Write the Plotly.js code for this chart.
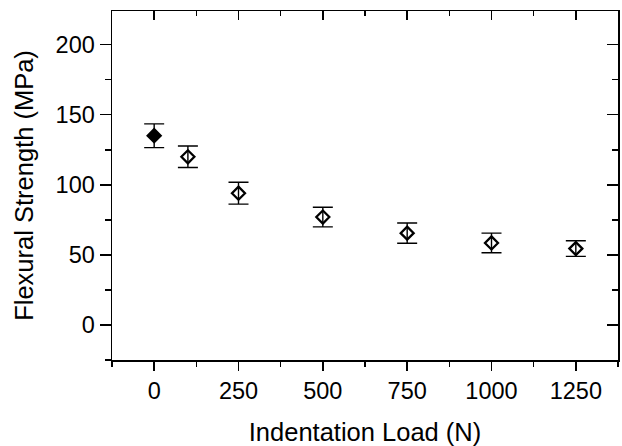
<!DOCTYPE html>
<html>
<head>
<meta charset="utf-8">
<script src="https://cdn.plot.ly/plotly-3.0.1.min.js"></script>
<style>html,body{margin:0;padding:0;background:#fff;}#chart{width:622px;height:446px;}</style>
</head>
<body>
<div id="chart"></div>
<script>
const loads = [0, 100, 250, 500, 750, 1000, 1250];
const strength = [135, 120, 94, 77, 65.5, 58.5, 54.5];
const errors = [8.5, 7.7, 7.8, 7, 7.2, 7, 5.6];
const symbols = ['diamond', 'diamond-open', 'diamond-open', 'diamond-open', 'diamond-open', 'diamond-open', 'diamond-open'];
const xTicks = [0, 250, 500, 750, 1000, 1250];
const yTicks = [0, 50, 100, 150, 200];

const font = {family: 'Liberation Sans, Arial, Helvetica, sans-serif', color: '#000'};
const xRange = [-125, 1375];
const yRange = [-25, 224];

const data = [
  {
    x: loads, y: strength, type: 'scatter', mode: 'markers',
    marker: {symbol: symbols, size: 10, color: '#000', line: {color: '#000', width: 2.3}},
    error_y: {type: 'data', array: errors, visible: true, color: '#000', thickness: 1.4, width: 10},
    showlegend: false, hoverinfo: 'x+y'
  },
  {x: [], y: [], xaxis: 'x2', yaxis: 'y2', type: 'scatter', mode: 'markers', showlegend: false}
];

const layout = {
  width: 622, height: 446,
  margin: {l: 112, r: 4, t: 11, b: 86},
  paper_bgcolor: '#fff', plot_bgcolor: '#fff',
  font: font,
  showlegend: false,
  xaxis: {
    range: xRange, tickvals: xTicks, ticktext: xTicks.map(String),
    ticks: 'outside', ticklen: 9, tickwidth: 1.5, tickcolor: '#000',
    minor: {dtick: 125, tick0: 0, ticks: 'outside', ticklen: 5, tickwidth: 1.5, tickcolor: '#000'},
    showgrid: false, zeroline: false, showline: true, linecolor: '#000', linewidth: 1.5,
    tickfont: {size: 23.5, family: font.family, color: '#000'},
    title: {text: 'Indentation Load (N)', font: {size: 25.5, family: font.family, color: '#000'}, standoff: 20},
    fixedrange: true
  },
  yaxis: {
    range: yRange, tickvals: yTicks, ticktext: yTicks.map(String),
    ticks: 'outside', ticklen: 11, tickwidth: 1.5, tickcolor: '#000',
    minor: {dtick: 25, tick0: 0, ticks: 'outside', ticklen: 6, tickwidth: 1.5, tickcolor: '#000'},
    showgrid: false, zeroline: false, showline: true, linecolor: '#000', linewidth: 1.5,
    tickfont: {size: 23.5, family: font.family, color: '#000'},
    title: {text: 'Flexural Strength (MPa)', font: {size: 25.5, family: font.family, color: '#000'}, standoff: 14},
    fixedrange: true
  },
  xaxis2: {
    overlaying: 'x', side: 'top', anchor: 'y2',
    range: xRange, tickvals: xTicks, showticklabels: false,
    ticks: 'inside', ticklen: 9, tickwidth: 1.5, tickcolor: '#000',
    minor: {dtick: 125, tick0: 0, ticks: 'inside', ticklen: 5, tickwidth: 1.5, tickcolor: '#000'},
    showgrid: false, zeroline: false, showline: true, linecolor: '#000', linewidth: 1.5,
    fixedrange: true
  },
  yaxis2: {
    overlaying: 'y', side: 'right', anchor: 'x2',
    range: yRange, tickvals: yTicks, showticklabels: false,
    ticks: 'inside', ticklen: 11, tickwidth: 1.5, tickcolor: '#000',
    minor: {dtick: 25, tick0: 0, ticks: 'inside', ticklen: 6, tickwidth: 1.5, tickcolor: '#000'},
    showgrid: false, zeroline: false, showline: true, linecolor: '#000', linewidth: 1.5,
    fixedrange: true
  }
};

Plotly.newPlot('chart', data, layout, {staticPlot: true, displayModeBar: false});
</script>
</body>
</html>
